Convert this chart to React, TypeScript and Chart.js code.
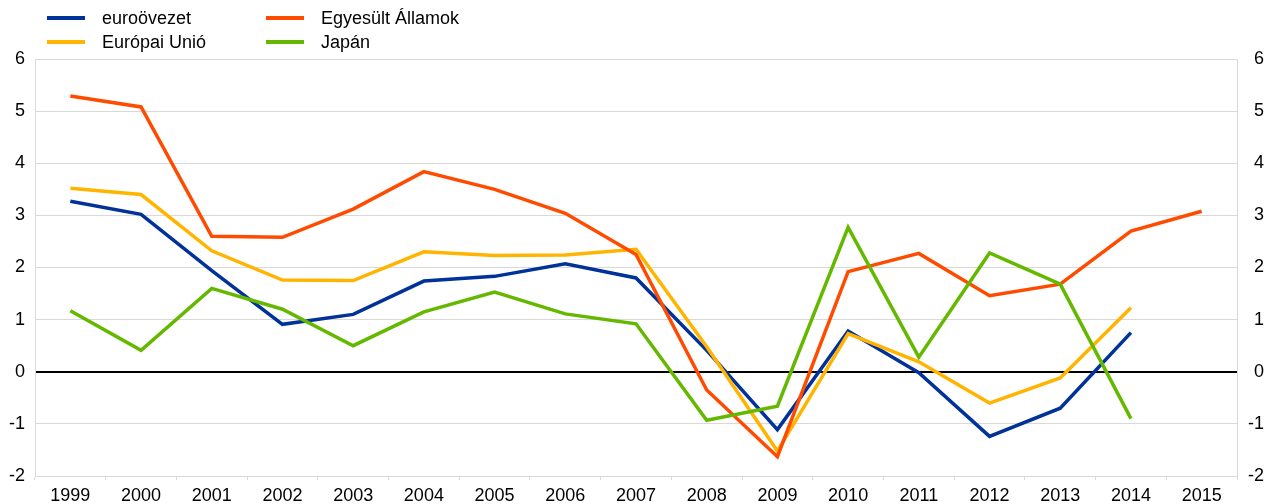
import React, { useEffect, useRef } from "react";
import { Chart, registerables } from "chart.js";

Chart.register(...registerables);

const years = ["1999","2000","2001","2002","2003","2004","2005","2006","2007","2008","2009","2010","2011","2012","2013","2014","2015"];
const euroArea = [3.27,3.02,1.94,0.91,1.10,1.74,1.83,2.07,1.80,0.41,-1.11,0.78,-0.02,-1.24,-0.70,0.75,null];
const euUnion = [3.52,3.40,2.32,1.76,1.75,2.30,2.23,2.24,2.35,0.48,-1.52,0.73,0.19,-0.60,-0.12,1.23,null];
const unitedStates = [5.29,5.08,2.60,2.58,3.12,3.84,3.50,3.04,2.25,-0.35,-1.63,1.92,2.27,1.46,1.68,2.70,3.08];
const japan = [1.17,0.41,1.60,1.20,0.50,1.15,1.53,1.11,0.92,-0.93,-0.66,2.77,0.28,2.28,1.68,-0.90,null];

const COLORS = { ea: "#003299", eu: "#FFB400", us: "#FF4B00", jp: "#65B800" };
const FONT = "'Liberation Sans', Arial, sans-serif";
const GRID = "#d9d9d9";
const FS = 18;

export default function App() {
  const ref = useRef<HTMLCanvasElement | null>(null);
  useEffect(() => {
    if (!ref.current) return;
    const chart = new Chart(ref.current, {
      type: "line",
      data: {
        labels: years,
        datasets: [
          { label: "euroövezet", data: euroArea, borderColor: COLORS.ea, order: 3 },
          { label: "Európai Unió", data: euUnion, borderColor: COLORS.eu, order: 2 },
          { label: "Egyesült Államok", data: unitedStates, borderColor: COLORS.us, order: 1 },
          { label: "Japán", data: japan, borderColor: COLORS.jp, order: 0 },
        ].map((d) => ({ ...d, borderWidth: 3.5, pointRadius: 0, fill: false, tension: 0, spanGaps: false })),
      },
      options: {
        animation: false,
        responsive: false,
        layout: { padding: { top: 59, left: 0, right: 3, bottom: 0 } },
        plugins: { legend: { display: false }, tooltip: { enabled: false } },
        scales: {
          x: {
            offset: true,
            grid: { offset: true, drawOnChartArea: false, tickLength: 4, color: GRID },
            border: { color: GRID },
            ticks: { color: "#000", font: { family: FONT, size: FS }, padding: 5, maxRotation: 0, autoSkip: false },
            afterFit: (s: any) => { s.height = 28; },
          },
          y: {
            position: "left",
            min: -2,
            max: 6,
            ticks: { stepSize: 1, color: "#000", font: { family: FONT, size: FS }, padding: 10 },
            grid: {
              drawTicks: false,
              color: (c: any) => (c.tick && c.tick.value === 0 ? "#000" : GRID),
              lineWidth: (c: any) => (c.tick && c.tick.value === 0 ? 2 : 1),
            },
            border: { color: GRID },
            afterFit: (s: any) => { s.width = 35; },
          },
          y2: {
            position: "right",
            min: -2,
            max: 6,
            ticks: { stepSize: 1, color: "#000", font: { family: FONT, size: FS }, crossAlign: "far" },
            grid: { drawOnChartArea: false, drawTicks: false },
            border: { color: GRID },
            afterFit: (s: any) => { s.width = 27; },
          },
        },
      },
    });
    return () => chart.destroy();
  }, []);

  const legendItems = [
    { label: "euroövezet", color: COLORS.ea, x: 47, y: 18 },
    { label: "Európai Unió", color: COLORS.eu, x: 47, y: 42 },
    { label: "Egyesült Államok", color: COLORS.us, x: 266, y: 18 },
    { label: "Japán", color: COLORS.jp, x: 266, y: 42 },
  ];

  return (
    <div style={{ position: "fixed", left: 0, top: 0, width: 1267, height: 504, background: "#fff" }}>
      <canvas ref={ref} width={1267} height={504} style={{ position: "absolute", left: 0, top: 0 }} />
      {legendItems.map((it) => (
        <div key={it.label} style={{ position: "absolute", left: it.x, top: it.y - 12, height: 24, display: "flex", alignItems: "center", fontFamily: FONT, fontSize: FS, color: "#000", whiteSpace: "nowrap" }}>
          <span style={{ display: "inline-block", width: 38, height: 4, background: it.color, marginRight: 17 }} />
          <span>{it.label}</span>
        </div>
      ))}
    </div>
  );
}
